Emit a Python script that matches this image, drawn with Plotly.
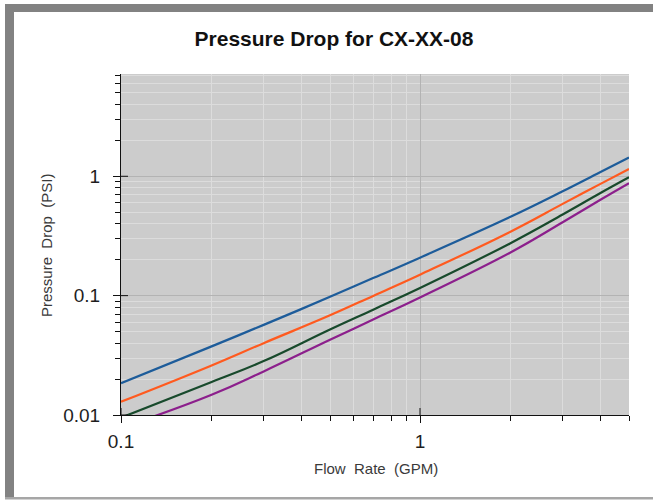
import plotly.graph_objects as go

# Flow rate samples (GPM) and pressure drop (PSI) for each configuration
flow_gpm = [0.1, 0.2, 0.3, 0.5, 0.7, 1.0, 2.0, 3.0, 4.0, 5.0]
dp_blue = [0.0185, 0.0374, 0.0569, 0.0977, 0.141, 0.208, 0.455, 0.748, 1.08, 1.435]
dp_orange = [0.0129, 0.0259, 0.0400, 0.0684, 0.100, 0.150, 0.342, 0.587, 0.860, 1.153]
dp_green = [0.0095, 0.0188, 0.0283, 0.0521, 0.0767, 0.116, 0.274, 0.478, 0.720, 0.980]
dp_purple = [0.0078, 0.0147, 0.0232, 0.0427, 0.0634, 0.0966, 0.229, 0.412, 0.632, 0.874]

series = [
    (dp_blue, "#1d5c9a"),
    (dp_orange, "#ff5a1f"),
    (dp_green, "#184a2c"),
    (dp_purple, "#8c1f8c"),
]

x_major = [0.1, 1]
x_minor = [0.2, 0.3, 0.4, 0.5, 0.6, 0.7, 0.8, 0.9, 2, 3, 4, 5]
y_major = [0.01, 0.1, 1]
y_minor = [m * d for d in (0.01, 0.1, 1) for m in range(2, 10)]

W, H = 653, 501
L, R, T, B = 121, 24, 74, 86
pw, ph = W - L - R, H - T - B


def px_x(px):
    return (px - L) / pw


def px_y(py):
    return (H - B - py) / ph


fig = go.Figure()
for vals, col in series:
    fig.add_trace(go.Scatter(x=flow_gpm, y=vals, mode="lines",
                             line=dict(color=col, width=2.2, shape="spline", smoothing=1.2),
                             showlegend=False, hoverinfo="skip"))

tick_font = dict(family="Liberation Sans, Arial, sans-serif", size=19, color="#1e1e1e")
axis_common = dict(
    type="log", showline=True, linecolor="#111111", linewidth=1,
    ticks="outside", ticklen=7, tickcolor="#111111", tickwidth=1,
    showgrid=True, gridcolor="#b3b3b3", gridwidth=1, zeroline=False,
    tickfont=tick_font,
)

fig.update_xaxes(
    **axis_common, range=[-1, 0.69897], tickvals=x_major,
    ticktext=["0.1", "1"], ticklabelstandoff=2,
    minor=dict(tickvals=x_minor, ticks="outside", ticklen=5, tickcolor="#111111",
               showgrid=True, gridcolor="#dcdcdc", gridwidth=1),
)
fig.update_yaxes(
    **axis_common, range=[-2, 0.857], tickvals=y_major,
    ticktext=["0.01", "0.1", "1"], ticklabelstandoff=9,
    minor=dict(tickvals=y_minor, ticks="outside", ticklen=5, tickcolor="#111111",
               showgrid=True, gridcolor="#dcdcdc", gridwidth=1),
)

# inner halves of the major ticks (they cross the axis line)
shapes = []
for v in x_major:
    shapes.append(dict(type="line", xref="x", yref="paper", x0=v, x1=v,
                       y0=0, y1=7 / ph, line=dict(color="#111111", width=1)))
for v in y_major:
    shapes.append(dict(type="line", xref="paper", yref="y", x0=0, x1=7 / pw,
                       y0=v, y1=v, line=dict(color="#111111", width=1)))

# window frame: thick bars on top and left, thin line at the bottom
frame = "#828282"
shapes += [
    dict(type="rect", xref="paper", yref="paper", x0=px_x(5), x1=px_x(W + 2),
         y0=px_y(12), y1=px_y(4), fillcolor=frame, line=dict(width=0), layer="above"),
    dict(type="rect", xref="paper", yref="paper", x0=px_x(5), x1=px_x(14),
         y0=px_y(499), y1=px_y(4), fillcolor=frame, line=dict(width=0), layer="above"),
    dict(type="rect", xref="paper", yref="paper", x0=px_x(5), x1=px_x(W + 2),
         y0=px_y(499.5), y1=px_y(497), fillcolor="#a6a6a6", line=dict(width=0), layer="above"),
]

label_font = dict(family="Liberation Sans, Arial, sans-serif", size=15, color="#3a3a3a")
annotations = [
    dict(text="Flow  Rate  (GPM)", xref="paper", yref="paper",
         x=px_x(376), y=px_y(468), showarrow=False, font=label_font,
         xanchor="center", yanchor="middle"),
    dict(text="Pressure  Drop  (PSI)", xref="paper", yref="paper",
         x=px_x(46), y=px_y(246), showarrow=False, font=label_font, textangle=-90,
         xanchor="center", yanchor="middle"),
]

fig.update_layout(
    width=W, height=H,
    margin=dict(l=L, r=R, t=T, b=B, pad=0),
    paper_bgcolor="white", plot_bgcolor="#cccccc",
    title=dict(text="<b>Pressure Drop for CX-XX-08</b>", x=334 / W, xanchor="center",
               y=1 - 39 / H, yanchor="middle", yref="container",
               font=dict(family="Liberation Sans, Arial, sans-serif", size=21, color="#111111")),
    shapes=shapes, annotations=annotations,
)

fig.write_html("out.html")
